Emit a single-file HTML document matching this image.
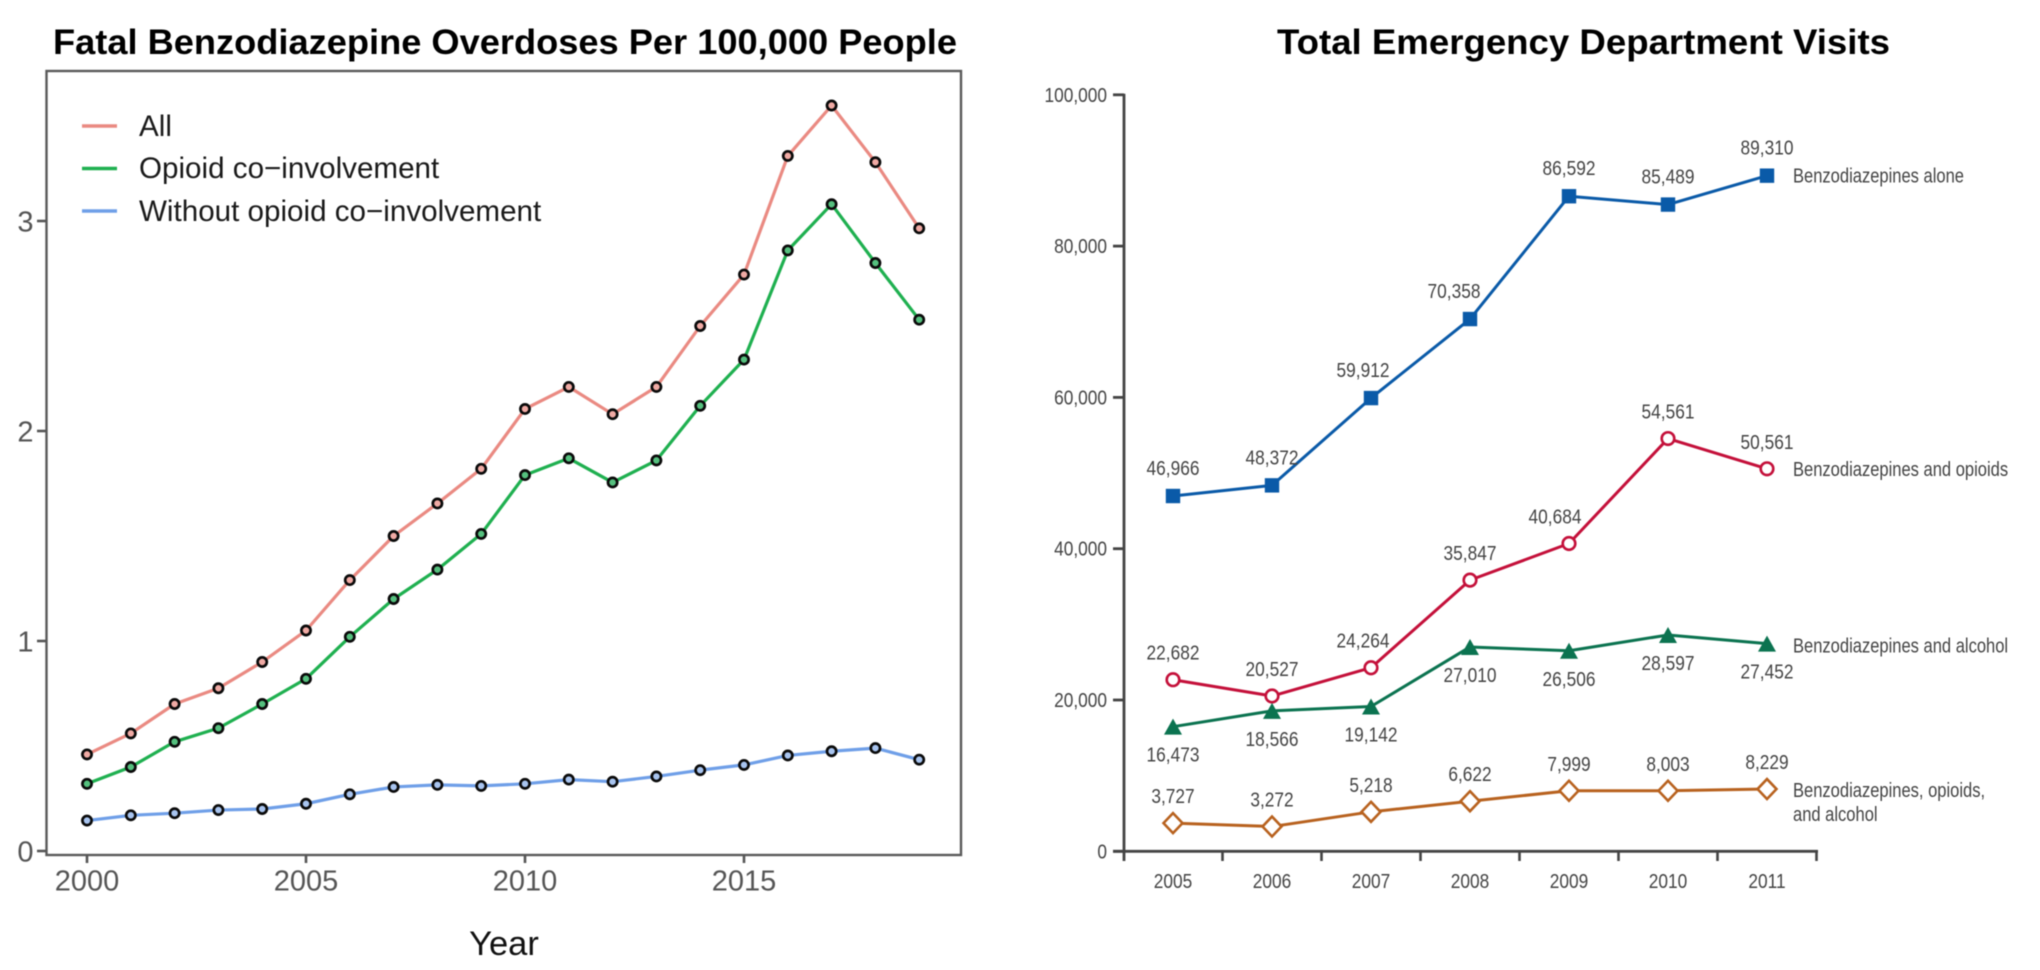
<!DOCTYPE html>
<html lang="en">
<head>
<meta charset="utf-8">
<title>Benzodiazepine Overdoses and Emergency Department Visits</title>
<style>
html,body{margin:0;padding:0;background:#fff;width:2040px;height:970px;overflow:hidden}
svg{display:block;font-family:"Liberation Sans",Arial,sans-serif;filter:blur(0.45px)}
.title{font-weight:700;font-size:35px;fill:#000}
.ltick{font-size:29px;fill:#555}
.legend{font-size:29.6px;fill:#1a1a1a}
.axis-title{font-size:34.5px;fill:#111}
.rtext{font-size:20px;fill:#444}
</style>
</head>
<body>
<svg id="chart" xmlns="http://www.w3.org/2000/svg" width="2040" height="970" viewBox="0 0 2040 970">
  <rect x="0" y="0" width="2040" height="970" fill="#fff"/>
  <text class="title" x="53" y="54" textLength="904" lengthAdjust="spacingAndGlyphs">Fatal Benzodiazepine Overdoses Per 100,000 People</text>
  <text class="title" x="1277" y="54" textLength="613" lengthAdjust="spacingAndGlyphs">Total Emergency Department Visits</text>
  <g id="left-chart">
    <rect x="46.5" y="71" width="914.5" height="784" fill="none" stroke="#5a5a5a" stroke-width="2.4"/>
    <text class="axis-title" x="504" y="955" text-anchor="middle">Year</text>
    <g>
      <line x1="82" x2="117" y1="126" y2="126" stroke="#ea8a82" stroke-width="3.4"/>
      <text class="legend" x="139" y="136">All</text>
      <line x1="82" x2="117" y1="168.5" y2="168.5" stroke="#1fb050" stroke-width="3.4"/>
      <text class="legend" x="139" y="178">Opioid co−involvement</text>
      <line x1="82" x2="117" y1="211" y2="211" stroke="#6f9fe8" stroke-width="3.4"/>
      <text class="legend" x="139" y="221">Without opioid co−involvement</text>
    </g>
  </g>
  <g id="right-chart"></g>
</svg>
<script>
/* Left chart data */
const leftYears = [2000,2001,2002,2003,2004,2005,2006,2007,2008,2009,2010,2011,2012,2013,2014,2015,2016,2017,2018,2019];
const leftAll = [0.46,0.56,0.70,0.775,0.90,1.05,1.29,1.50,1.655,1.82,2.105,2.21,2.08,2.21,2.50,2.745,3.31,3.55,3.28,2.965];
const leftOpioid = [0.32,0.40,0.52,0.585,0.70,0.82,1.02,1.20,1.34,1.51,1.79,1.87,1.755,1.86,2.12,2.34,2.86,3.08,2.80,2.53];
const leftWithout = [0.145,0.17,0.18,0.195,0.20,0.225,0.27,0.305,0.315,0.31,0.32,0.34,0.33,0.355,0.385,0.41,0.455,0.475,0.49,0.435];
const leftXTicks = [2000,2005,2010,2015];
const leftYTicks = [0,1,2,3];

/* Right chart data */
const rightYears = [2005,2006,2007,2008,2009,2010,2011];
const rightAlone = [46966,48372,59912,70358,86592,85489,89310];
const rightOpioids = [22682,20527,24264,35847,40684,54561,50561];
const rightAlcohol = [16473,18566,19142,27010,26506,28597,27452];
const rightAll = [3727,3272,5218,6622,7999,8003,8229];
const rightYTicks = [0,20000,40000,60000,80000,100000];

const NS = 'http://www.w3.org/2000/svg';
function mk(tag, attrs, parent, txt) {
  const el = document.createElementNS(NS, tag);
  for (const k in attrs) el.setAttribute(k, attrs[k]);
  if (txt !== undefined) el.textContent = txt;
  parent.appendChild(el);
  return el;
}
const fmt = n => n.toLocaleString('en-US');

/* Axis functions */
const lx = y => 87 + (y - 2000) * 43.8;
const ly = v => 851 - v * 210;
const rx = y => 1173 + (y - 2005) * 99;
const ry = v => 851.3 - v * 0.007565;

/* ---------- Left chart ---------- */
const L = document.getElementById('left-chart');
leftYTicks.forEach(t => {
  const tick = mk('line', {x1: 37, x2: 46, y1: ly(t), y2: ly(t), stroke: '#555', 'stroke-width': 2.6}, L);
  
  
  const label = mk('text', {class: 'ltick', x: 33.5, y: ly(t) + 10.5, 'text-anchor': 'end'}, L, String(t));
  
  
});
leftXTicks.forEach(t => {
  const tick = mk('line', {x1: lx(t), x2: lx(t), y1: 855, y2: 863, stroke: '#555', 'stroke-width': 2.6}, L);
  
  
  const label = mk('text', {class: 'ltick', x: lx(t), y: 890.5, 'text-anchor': 'middle'}, L, String(t));
  
  
});
function leftSeries(values, color, fill, name) {
  const g = mk('g', {}, L);
  
  
  const line = mk('polyline', {
    points: values.map((v, i) => lx(leftYears[i]) + ',' + ly(v)).join(' '),
    fill: 'none', stroke: color, 'stroke-width': 3.2, 'stroke-linejoin': 'round'
  }, g);
  
  
  values.forEach((v, i) => {
    const pt = mk('circle', {cx: lx(leftYears[i]), cy: ly(v), r: 4.6, fill: fill, stroke: '#0a0a0a', 'stroke-width': 2.7}, g);
    
    
  });
}
leftSeries(leftAll, '#ea8a82', '#f0aaa4', 'series-all');
leftSeries(leftOpioid, '#1fb050', '#55c07e', 'series-opioid-co-involvement');
leftSeries(leftWithout, '#6f9fe8', '#a8c4ef', 'series-without-opioid');

/* ---------- Right chart ---------- */
const R = document.getElementById('right-chart');
function rText(x, y, s, anchor, sx) {
  return mk('text', {class: 'rtext', transform: 'translate(' + x + ',' + y + ') scale(' + sx + ',1)', 'text-anchor': anchor}, R, s);
}
const yAxis = mk('line', {x1: 1124, x2: 1124, y1: ry(100000) - 1, y2: 861, stroke: '#444', 'stroke-width': 2.8}, R);


const xAxis = mk('line', {x1: 1113, x2: 1818, y1: ry(0), y2: ry(0), stroke: '#444', 'stroke-width': 2.8}, R);


rightYTicks.forEach(t => {
  const tick = mk('line', {x1: 1113, x2: 1124, y1: ry(t), y2: ry(t), stroke: '#444', 'stroke-width': 2.8}, R);
  
  
  const label = rText(1107, ry(t) + 7, fmt(t), 'end', 0.865);
  
  
});
rightYears.forEach((y, i) => {
  const tick = mk('line', {x1: rx(y) + 49.5, x2: rx(y) + 49.5, y1: ry(0), y2: 861, stroke: '#444', 'stroke-width': 2.6}, R);
  
  
  const label = rText(rx(y), 888, String(y), 'middle', 0.865);
  
  
});
function marker(kind, x, y, color, g) {
  if (kind === 'square') return mk('rect', {x: x - 7.2, y: y - 7.2, width: 14.4, height: 14.4, fill: color}, g);
  if (kind === 'circle') return mk('circle', {cx: x, cy: y, r: 6.3, fill: '#fff', stroke: color, 'stroke-width': 2.6}, g);
  if (kind === 'triangle') return mk('polygon', {points: (x) + ',' + (y - 8) + ' ' + (x + 9) + ',' + (y + 8) + ' ' + (x - 9) + ',' + (y + 8), fill: color}, g);
  return mk('polygon', {points: x + ',' + (y - 10) + ' ' + (x + 9.5) + ',' + y + ' ' + x + ',' + (y + 10) + ' ' + (x - 9.5) + ',' + y, fill: '#fff', stroke: color, 'stroke-width': 2.6}, g);
}
/* labelShift: layout nudge by year, moving a value label off a steep line */
function rightSeries(values, color, kind, labelDy, labelShift, name) {
  const g = mk('g', {}, R);
  
  
  const line = mk('polyline', {
    points: values.map((v, i) => rx(rightYears[i]) + ',' + ry(v)).join(' '),
    fill: 'none', stroke: color, 'stroke-width': 3, 'stroke-linejoin': 'round'
  }, g);
  
  
  values.forEach((v, i) => {
    const yr = rightYears[i];
    const m = marker(kind, rx(yr), ry(v), color, g);
    
    
    const label = rText(rx(yr) + (labelShift[yr] || 0), ry(v) + labelDy, fmt(v), 'middle', 0.865);
    
    
  });
}
rightSeries(rightAlone, '#0a5aa8', 'square', -21, {2007: -8, 2008: -16}, 'series-benzodiazepines-alone');
rightSeries(rightOpioids, '#c4103a', 'circle', -20, {2007: -8, 2009: -14}, 'series-benzodiazepines-and-opioids');
rightSeries(rightAlcohol, '#0b7350', 'triangle', 35, {}, 'series-benzodiazepines-and-alcohol');
rightSeries(rightAll, '#b8621f', 'diamond', -20, {}, 'series-benzodiazepines-opioids-alcohol');

const endX = 1793;
const endAlone = rText(endX, ry(rightAlone[6]) + 7, 'Benzodiazepines alone', 'start', 0.827);


const endOpioids = rText(endX, ry(rightOpioids[6]) + 7, 'Benzodiazepines and opioids', 'start', 0.827);


const endAlcohol = rText(endX, ry(rightAlcohol[6]) + 9, 'Benzodiazepines and alcohol', 'start', 0.827);


const endAll1 = rText(endX, ry(rightAll[6]) + 8, 'Benzodiazepines, opioids,', 'start', 0.827);


const endAll2 = rText(endX, ry(rightAll[6]) + 32, 'and alcohol', 'start', 0.827);


</script>
</body>
</html>
